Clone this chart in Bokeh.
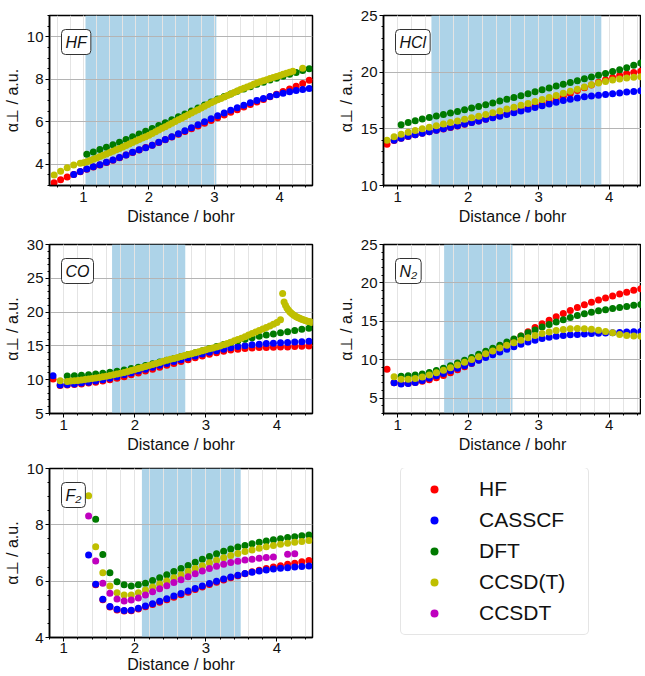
from bokeh.plotting import figure
from bokeh.models import Range1d, FixedTicker, BoxAnnotation, Label, Legend, LegendItem
from bokeh.layouts import column, row
from bokeh.embed import file_html
from bokeh.resources import INLINE

FONT = "Liberation Sans"
METHODS = ["HF", "CASSCF", "DFT", "CCSD(T)", "CCSDT"]
COLORS = {"HF": "#ff0000", "CASSCF": "#0000ff", "DFT": "#007a00",
          "CCSD(T)": "#bfbf00", "CCSDT": "#bf00bf"}
XLABEL = "Distance / bohr"
YLABEL = "α⊥ / a.u."

# ---------------- data ----------------
XS = [0.55, 0.65, 0.75, 0.85, 0.95, 1.05, 1.15, 1.25, 1.35, 1.45, 1.55, 1.65, 1.75, 1.85,
      1.95, 2.05, 2.15, 2.25, 2.35, 2.45, 2.55, 2.65, 2.75, 2.85, 2.95, 3.05, 3.15, 3.25,
      3.35, 3.45, 3.55, 3.65, 3.75, 3.85, 3.95, 4.05, 4.15, 4.25, 4.35, 4.45]
XD = [1.00, 1.05, 1.10, 1.15, 1.20, 1.25, 1.30, 1.35, 1.40, 1.45, 1.50, 1.55, 1.60, 1.65,
      1.70, 1.75, 1.80, 1.85, 1.90, 1.95, 2.00, 2.05, 2.10, 2.15, 2.20, 2.25, 2.30, 2.35,
      2.40, 2.45, 2.50, 2.55, 2.60, 2.65, 2.70, 2.75, 2.80, 2.85, 2.90, 2.95, 3.00, 3.05,
      3.10, 3.15, 3.20, 3.25, 3.30, 3.35, 3.40, 3.45, 3.50, 3.55, 3.60, 3.65, 3.70, 3.75,
      3.80, 3.85, 3.90, 3.95, 4.00, 4.05, 4.10, 4.15, 4.20]
XF = [1.35, 1.45, 1.55, 1.65, 1.75, 1.85, 1.95, 2.05, 2.15, 2.25, 2.35, 2.45, 2.55, 2.65,
      2.75, 2.85, 2.95, 3.05, 3.15, 3.25, 3.35, 3.45, 3.55, 3.65, 3.75, 3.85, 3.95, 4.05,
      4.15, 4.25, 4.35, 4.45]

# HF molecule
HF_HF = [3.13, 3.27, 3.40, 3.52, 3.65, 3.77, 3.87, 3.97, 4.08, 4.19, 4.31, 4.43, 4.55, 4.67,
         4.79, 4.90, 5.02, 5.15, 5.28, 5.41, 5.54, 5.67, 5.80, 5.93, 6.06, 6.19, 6.32, 6.45,
         6.57, 6.69, 6.81, 6.93, 7.05, 7.18, 7.30, 7.42, 7.54, 7.67, 7.80, 7.95]
HF_CAS = [3.52, 3.66, 3.78, 3.88, 3.98, 4.09, 4.20, 4.32, 4.44, 4.56, 4.68, 4.78, 4.90, 5.03,
          5.16, 5.30, 5.44, 5.58, 5.72, 5.86, 6.00, 6.14, 6.28, 6.41, 6.54, 6.66, 6.78, 6.89,
          7.00, 7.10, 7.19, 7.27, 7.34, 7.41, 7.47, 7.52, 7.57]
HF_DFT = [4.47, 4.58, 4.69, 4.80, 4.92, 5.04, 5.16, 5.29, 5.42, 5.55, 5.68, 5.82, 5.95, 6.09,
          6.23, 6.37, 6.51, 6.65, 6.79, 6.93, 7.07, 7.19, 7.31, 7.43, 7.54, 7.65, 7.76, 7.86,
          7.96, 8.05, 8.14, 8.23, 8.32, 8.41, 8.49]
HF_CCT_SPARSE_X = [0.55, 0.65, 0.75, 0.85, 0.95, 4.35]
HF_CCT_SPARSE = [3.49, 3.67, 3.83, 3.96, 4.05, 8.52]
HF_CCT = [4.07, 4.12, 4.18, 4.24, 4.30, 4.36, 4.42, 4.48, 4.55, 4.61, 4.68, 4.74, 4.81, 4.88,
          4.95, 5.02, 5.09, 5.16, 5.23, 5.30, 5.37, 5.45, 5.53, 5.61, 5.69, 5.77, 5.85, 5.93,
          6.01, 6.09, 6.17, 6.25, 6.33, 6.41, 6.49, 6.57, 6.65, 6.73, 6.81, 6.89, 6.96, 7.03,
          7.10, 7.17, 7.24, 7.31, 7.38, 7.45, 7.52, 7.58, 7.64, 7.70, 7.76, 7.82, 7.88, 7.93,
          7.98, 8.03, 8.08, 8.13, 8.18, 8.23, 8.28, 8.33, 8.38]

# HCl molecule
HCL_HF = [13.65, 13.98, 14.17, 14.33, 14.47, 14.61, 14.74, 14.87, 14.99, 15.12, 15.26, 15.41,
          15.55, 15.70, 15.85, 16.00, 16.15, 16.31, 16.48, 16.65, 16.83, 17.00, 17.18, 17.40,
          17.63, 17.87, 18.12, 18.38, 18.63, 18.87, 19.10, 19.32, 19.52, 19.70, 19.85, 19.97,
          20.07]
HCL_CAS = [14.00, 14.18, 14.34, 14.48, 14.62, 14.75, 14.88, 15.00, 15.13, 15.27, 15.42, 15.56,
           15.70, 15.84, 15.98, 16.12, 16.27, 16.42, 16.57, 16.72, 16.88, 17.04, 17.20, 17.35,
           17.50, 17.62, 17.73, 17.82, 17.90, 17.97, 18.04, 18.10, 18.17, 18.24, 18.30, 18.37]
HCL_DFT = [15.35, 15.55, 15.72, 15.87, 16.00, 16.13, 16.26, 16.40, 16.54, 16.68, 16.83, 16.98,
           17.13, 17.29, 17.45, 17.61, 17.77, 17.93, 18.10, 18.27, 18.44, 18.60, 18.77, 18.93,
           19.09, 19.25, 19.41, 19.57, 19.73, 19.89, 20.05, 20.22, 20.40, 20.60, 20.80]
HCL_CCT = [14.00, 14.30, 14.52, 14.70, 14.86, 15.00, 15.14, 15.28, 15.42, 15.56, 15.70, 15.84,
           15.98, 16.12, 16.27, 16.42, 16.58, 16.74, 16.90, 17.07, 17.24, 17.41, 17.59, 17.77,
           17.95, 18.13, 18.31, 18.50, 18.70, 18.88, 19.04, 19.18, 19.30, 19.40, 19.48, 19.55,
           19.60]

# CO molecule
CO_HF = [10.10, 9.15, 9.20, 9.28, 9.38, 9.50, 9.64, 9.80, 9.98, 10.20, 10.45, 10.72, 11.00,
         11.28, 11.56, 11.84, 12.12, 12.40, 12.68, 12.96, 13.24, 13.50, 13.76, 14.00, 14.20,
         14.38, 14.52, 14.62, 14.70, 14.75, 14.78, 14.80, 14.82, 14.85, 14.90, 14.95, 15.00]
CO_CAS = [10.60, 9.20, 9.28, 9.38, 9.50, 9.64, 9.80, 9.98, 10.20, 10.45, 10.72, 11.00, 11.28,
          11.56, 11.84, 12.12, 12.40, 12.68, 12.96, 13.24, 13.52, 13.80, 14.06, 14.30, 14.52,
          14.72, 14.90, 15.04, 15.16, 15.26, 15.34, 15.41, 15.47, 15.52, 15.57, 15.62, 15.67]
CO_DFT = [10.55, 10.60, 10.66, 10.74, 10.84, 10.96, 11.10, 11.26, 11.44, 11.64, 11.86, 12.10,
          12.35, 12.61, 12.88, 13.15, 13.43, 13.71, 14.00, 14.28, 14.62, 14.92, 15.22, 15.50,
          15.75, 16.00, 16.22, 16.42, 16.60, 16.77, 16.93, 17.10, 17.27, 17.45, 17.62]
CO_CCT_SPARSE_X = [0.95, 4.08]
CO_CCT_SPARSE = [9.85, 22.75]
CO_CCT = [9.75, 9.80, 9.85, 9.90, 9.96, 10.03, 10.10, 10.18, 10.26, 10.34, 10.43, 10.52, 10.62,
          10.72, 10.83, 10.95, 11.08, 11.22, 11.36, 11.50, 11.65, 11.80, 11.95, 12.10, 12.25,
          12.41, 12.56, 12.72, 12.87, 13.01, 13.15, 13.30, 13.44, 13.58, 13.72, 13.85, 13.99,
          14.13, 14.28, 14.42, 14.56, 14.70, 14.85, 15.00, 15.17, 15.36, 15.55, 15.75, 15.95,
          16.15, 16.37, 16.60, 16.82, 17.05, 17.27, 17.50, 17.72, 17.95, 18.20, 18.45, 18.85]
CO_TAIL_X = [4.10, 4.12, 4.14, 4.16, 4.18, 4.20, 4.22, 4.24, 4.26, 4.28, 4.30, 4.32, 4.34, 4.36,
             4.38, 4.40, 4.42, 4.44, 4.46, 4.48, 4.50]
CO_TAIL = [21.50, 21.00, 20.60, 20.30, 20.05, 19.85, 19.67, 19.52, 19.39, 19.28, 19.18, 19.08,
           18.98, 18.90, 18.82, 18.75, 18.68, 18.62, 18.56, 18.52, 18.48]

# N2 molecule
N2_HF = [8.75, 7.00, 6.90, 6.95, 7.05, 7.20, 7.40, 7.65, 7.95, 8.30, 8.68, 9.08, 9.50, 9.95,
         10.45, 10.95, 11.47, 12.00, 12.55, 13.10, 13.65, 14.18, 14.68, 15.15, 15.60, 16.02,
         16.42, 16.80, 17.15, 17.48, 17.78, 18.05, 18.30, 18.55, 18.80, 19.03, 19.25]
N2_CAS = [7.00, 6.85, 6.90, 7.05, 7.30, 7.60, 7.90, 8.22, 8.55, 8.90, 9.20, 9.55, 9.92, 10.28,
          10.64, 11.00, 11.35, 11.70, 12.02, 12.30, 12.55, 12.76, 12.93, 13.06, 13.16, 13.24,
          13.30, 13.35, 13.40, 13.44, 13.48, 13.52, 13.56, 13.60, 13.64, 13.68]
N2_DFT = [7.85, 7.90, 8.00, 8.15, 8.35, 8.60, 8.90, 9.22, 9.56, 9.92, 10.30, 10.70, 11.10,
          11.50, 11.90, 12.30, 12.70, 13.10, 13.50, 13.88, 14.25, 14.60, 14.92, 15.22, 15.50,
          15.75, 15.98, 16.18, 16.36, 16.52, 16.66, 16.80, 16.94, 17.08, 17.20]
N2_CCT = [7.80, 7.45, 7.45, 7.55, 7.75, 8.00, 8.30, 8.62, 8.95, 9.30, 9.66, 10.03, 10.40, 10.78,
          11.15, 11.52, 11.88, 12.22, 12.55, 12.86, 13.14, 13.40, 13.62, 13.80, 13.93, 14.02,
          14.06, 14.04, 13.96, 13.84, 13.68, 13.50, 13.30, 13.15, 13.08, 13.05]

# F2 molecule
F2_HF = [5.87, 5.34, 5.08, 4.98, 4.94, 4.95, 5.01, 5.09, 5.17, 5.25, 5.34, 5.43, 5.52, 5.61,
         5.70, 5.79, 5.88, 5.96, 6.04, 6.12, 6.19, 6.26, 6.33, 6.39, 6.45, 6.50, 6.55, 6.60,
         6.64, 6.69, 6.73]
F2_CAS = [6.93, 5.89, 5.36, 5.10, 5.00, 4.96, 4.97, 5.04, 5.12, 5.20, 5.29, 5.38, 5.47, 5.56,
          5.65, 5.74, 5.83, 5.92, 6.00, 6.08, 6.15, 6.21, 6.27, 6.32, 6.36, 6.40, 6.43, 6.46,
          6.48, 6.50, 6.52, 6.54]
F2_DFT = [8.20, 6.95, 6.30, 5.98, 5.87, 5.83, 5.87, 5.93, 6.02, 6.12, 6.23, 6.34, 6.45, 6.56,
          6.67, 6.78, 6.88, 6.97, 7.06, 7.14, 7.21, 7.27, 7.33, 7.38, 7.43, 7.47, 7.51, 7.55,
          7.58, 7.61, 7.64]
F2_CCT = [9.03, 7.22, 6.30, 5.83, 5.59, 5.51, 5.51, 5.59, 5.69, 5.79, 5.90, 6.01, 6.12, 6.23,
          6.34, 6.45, 6.55, 6.65, 6.74, 6.83, 6.91, 6.98, 7.05, 7.11, 7.17, 7.22, 7.27, 7.31,
          7.35, 7.38, 7.41, 7.44]
F2_CCSDT_X = XF[:27] + [4.15, 4.25]
F2_CCSDT = [8.31, 6.72, 5.93, 5.57, 5.37, 5.30, 5.33, 5.40, 5.51, 5.62, 5.73, 5.84, 5.95, 6.05,
            6.16, 6.26, 6.36, 6.45, 6.53, 6.60, 6.66, 6.71, 6.75, 6.78, 6.81, 6.84, 6.86,
            6.96, 6.97]

# shaded regions (bohr)
SHADE = {"HF": (1.03, 3.03), "HCl": (1.48, 3.89), "CO": (1.68, 2.71),
         "N2": (1.66, 2.63), "F2": (2.10, 3.49)}
# ---------------------------------------------------------------

XMINOR = [round(0.2 * i, 1) for i in range(2, 24)]
SHADE_COLOR = "#add3e8"


def make_panel(tag, text, xr, yr, yticks, ystep, fw, fh, bl, br, bt, bb, series,
               xstand=(2, 3)):
    p = figure(x_range=Range1d(*xr), y_range=Range1d(*yr),
               frame_width=fw, frame_height=fh,
               min_border_left=bl, min_border_right=br,
               min_border_top=bt, min_border_bottom=bb,
               output_backend="svg", toolbar_location=None,
               background_fill_color="white", border_fill_color="white")
    p.outline_line_color = "black"
    p.outline_line_width = 1.5

    nminor = int(round((yr[1] - yr[0]) / ystep))
    yminor = [round(yr[0] + ystep * i, 3) for i in range(nminor + 1)]
    p.xaxis.ticker = FixedTicker(ticks=[1, 2, 3, 4], minor_ticks=XMINOR)
    p.yaxis.ticker = FixedTicker(ticks=yticks, minor_ticks=yminor)
    for ax in (p.xaxis, p.yaxis):
        ax.axis_line_width = 1.5
        ax.axis_line_color = "black"
        ax.major_tick_out = 4
        ax.major_tick_in = 0
        ax.minor_tick_out = 2
        ax.minor_tick_in = 0
        ax.major_tick_line_color = "black"
        ax.minor_tick_line_color = "black"
        ax.major_label_text_font = FONT
        ax.major_label_text_font_size = "15px"
        ax.major_label_text_color = "#111111"
        ax.major_label_standoff = 2
        ax.axis_label_text_font = FONT
        ax.axis_label_text_font_size = "16px"
        ax.axis_label_text_font_style = "normal"
        ax.axis_label_text_color = "#111111"
        ax.axis_label_standoff = 3
    p.xaxis.major_label_standoff = xstand[0]
    p.xaxis.axis_label_standoff = xstand[1]
    p.xaxis.axis_label = XLABEL
    p.yaxis.axis_label = YLABEL

    p.ygrid.grid_line_color = "#b4b4b4"
    p.ygrid.grid_line_width = 1
    p.xgrid.grid_line_color = "#e4e4e4"
    p.xgrid.minor_grid_line_color = "#e4e4e4"

    s0, s1 = SHADE[tag]
    p.add_layout(BoxAnnotation(left=s0, right=s1, fill_color=SHADE_COLOR, fill_alpha=1.0,
                               line_color=None, level="image"))

    for method, xs, ys in series:
        p.scatter(xs, ys, size=7, fill_color=COLORS[method], line_color=None)

    kw = dict(x=xr[0], y=yr[1], x_offset=12, y_offset=-14, text=text,
              text_font=FONT, text_font_size="16px", text_font_style="italic",
              text_align="left", text_baseline="top", text_color="#111111",
              border_line_color="#333333", border_line_width=1,
              background_fill_color="white", background_fill_alpha=1.0)
    props = Label.properties()
    if "padding" in props:
        kw["padding"] = 4
    if "border_radius" in props:
        kw["border_radius"] = 4
    p.add_layout(Label(**kw))
    return p


F2_SERIES = [("HF", XF[1:], F2_HF), ("CASSCF", XF, F2_CAS), ("DFT", XF[1:], F2_DFT),
             ("CCSD(T)", XF, F2_CCT), ("CCSDT", F2_CCSDT_X, F2_CCSDT)]

p_hf = make_panel("HF", "HF", (0.48, 4.5), (3, 11), [4, 6, 8, 10], 0.5,
                  263, 170, 44, 20, 15, 46,
                  [("HF", XS, HF_HF), ("CASSCF", XS[3:], HF_CAS), ("DFT", XS[5:], HF_DFT),
                   ("CCSD(T)", HF_CCT_SPARSE_X, HF_CCT_SPARSE), ("CCSD(T)", XD, HF_CCT)])

p_hcl = make_panel("HCl", "HCl", (0.8, 4.46), (10, 25), [10, 15, 20, 25], 1,
                   258, 170, 51, 0, 15, 46,
                   [("HF", XS[3:], HCL_HF), ("CASSCF", XS[4:], HCL_CAS),
                    ("DFT", XS[5:], HCL_DFT), ("CCSD(T)", XS[3:], HCL_CCT)])

p_co = make_panel("CO", "CO", (0.8, 4.5), (5, 30), [5, 10, 15, 20, 25, 30], 1,
                  263, 169, 44, 20, 13, 44,
                  [("HF", XS[3:], CO_HF), ("CASSCF", XS[3:], CO_CAS), ("DFT", XS[5:], CO_DFT),
                   ("CCSD(T)", CO_CCT_SPARSE_X, CO_CCT_SPARSE), ("CCSD(T)", XD[1:62], CO_CCT),
                   ("CCSD(T)", CO_TAIL_X, CO_TAIL)])

p_n2 = make_panel("N2", "N₂", (0.8, 4.46), (3, 25), [5, 10, 15, 20, 25], 1,
                  258, 169, 51, 0, 13, 44,
                  [("HF", XS[3:], N2_HF), ("CASSCF", XS[4:], N2_CAS),
                   ("DFT", XS[5:], N2_DFT), ("CCSD(T)", XS[4:], N2_CCT)])

p_f2 = make_panel("F2", "F₂", (0.8, 4.5), (4, 10), [4, 6, 8, 10], 0.5,
                  263, 169, 44, 20, 11, 30, F2_SERIES, xstand=(1, 0))

# legend panel: proxies use the F2 series, which lie outside this panel's view
p_leg = figure(x_range=Range1d(0, 1), y_range=Range1d(0, 1),
               frame_width=300, frame_height=169,
               min_border_left=0, min_border_right=0, min_border_top=11, min_border_bottom=30,
               x_axis_location=None, y_axis_location=None,
               output_backend="svg", toolbar_location=None,
               background_fill_color="white", border_fill_color="white")
p_leg.outline_line_color = None
p_leg.grid.visible = False
items = []
for m, xs, ys in F2_SERIES:
    r = p_leg.scatter(xs, ys, size=8, fill_color=COLORS[m], line_color=None)
    items.append(LegendItem(label=m, renderers=[r], index=0))
lkw = dict(items=items, location=(68, 2), orientation="vertical",
           label_text_font=FONT, label_text_font_size="21px", label_text_color="#111111",
           glyph_width=48, glyph_height=20, label_standoff=21, label_height=20,
           label_width=100, padding=9, spacing=7, margin=0,
           border_line_color="#cccccc", border_line_width=1.2,
           background_fill_color="white", background_fill_alpha=1.0)
if "border_radius" in Legend.properties():
    lkw["border_radius"] = 5
p_leg.add_layout(Legend(**lkw), "center")

layout = column(row(p_hf, p_hcl), row(p_co, p_n2), row(p_f2, p_leg))

open("out.html", "w").write(file_html(layout, INLINE))
